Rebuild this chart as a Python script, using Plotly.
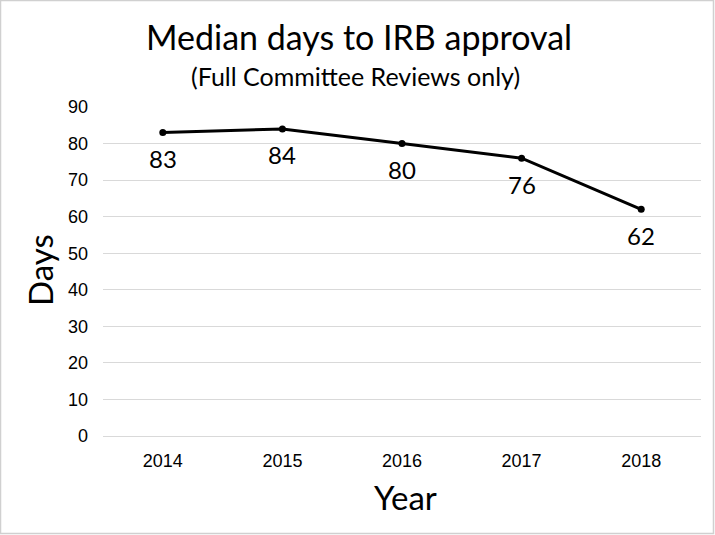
import plotly.graph_objects as go

years = [2014, 2015, 2016, 2017, 2018]
year_labels = ["2014", "2015", "2016", "2017", "2018"]
median_days = [83, 84, 80, 76, 62]
y_ticks = [0, 10, 20, 30, 40, 50, 60, 70, 80, 90]

W, H = 715, 535
L, R, T, B = 103, 14, 107, 99
pw, ph = W - L - R, H - T - B

def to_px(x):
    return (x - L) / pw

def to_py(y):
    return (H - B - y) / ph

fig = go.Figure()
fig.add_trace(go.Scatter(
    x=years, y=median_days, mode="lines+markers",
    line=dict(color="black", width=3),
    marker=dict(color="black", size=7),
    hoverinfo="skip", showlegend=False,
))
for yr, v in zip(years, median_days):
    fig.add_annotation(x=yr, y=v, xref="x", yref="y", text=str(v), showarrow=False, yshift=-26,
                       xanchor="center", yanchor="middle",
                       font=dict(family="Lato", size=24, color="black"))

def paper_text(x, y, text, size, angle=0):
    fig.add_annotation(xref="paper", yref="paper", x=to_px(x), y=to_py(y), text=text,
                       showarrow=False, xanchor="center", yanchor="middle", textangle=angle,
                       font=dict(family="Lato", size=size, color="black"))

paper_text(359, 37, "Median days to IRB approval", 34)
paper_text(355, 76, "(Full Committee Reviews only)", 25)
paper_text(405, 497, "Year", 33)
paper_text(40, 270, "Days", 33, angle=-90)

fig.add_shape(type="rect", xref="paper", yref="paper",
              x0=to_px(0.5), x1=to_px(W - 1.5), y0=to_py(H - 1.5), y1=to_py(0.5),
              line=dict(color="#d0d0d0", width=1.5), layer="below")

fig.update_layout(
    width=W, height=H,
    margin=dict(l=L, r=R, t=T, b=B, pad=0, autoexpand=False),
    paper_bgcolor="white", plot_bgcolor="white",
    font=dict(family="Liberation Sans, Arial", color="black"),
    xaxis=dict(
        range=[2013.5, 2018.5], tickvals=years, ticktext=year_labels,
        showgrid=False, zeroline=False, showline=False, automargin=False,
        ticks="", ticklabelstandoff=12,
        tickfont=dict(family="Liberation Sans, Arial", size=18, color="black"),
    ),
    yaxis=dict(
        range=[0, 90], tickvals=y_ticks, showgrid=True, gridcolor="#d9d9d9", gridwidth=1,
        zeroline=True, zerolinecolor="#d9d9d9", zerolinewidth=1,
        showline=False, ticks="", ticklabelstandoff=14, automargin=False,
        tickfont=dict(family="Liberation Sans, Arial", size=18, color="black"),
    ),
)

fig.write_html("out.html", config={"displayModeBar": False},
               post_script="document.body.style.margin='0';document.body.style.padding='0';")
